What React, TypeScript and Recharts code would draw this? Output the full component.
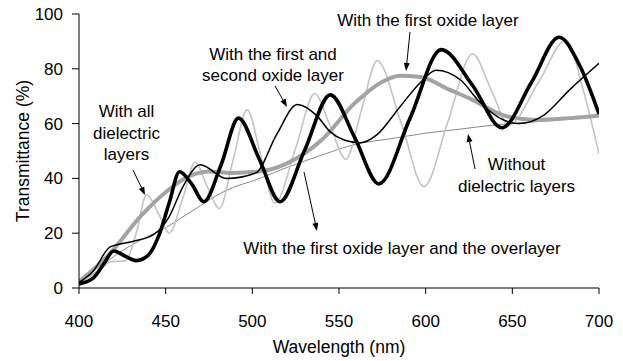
import React from 'react';
import { LineChart, Line, XAxis, YAxis } from 'recharts';

// wavelength (nm) / transmittance (%), one pair per curve
const withoutNm = [400, 410, 420, 430, 440, 450, 460, 470, 480, 490, 500, 520, 540, 560, 580, 600, 620, 640, 660, 680, 700];
const withoutT = [2, 6, 11.5, 15.5, 19, 22, 26, 30, 34, 37, 39, 44, 48.5, 52.5, 54.5, 56.5, 58, 59.5, 60.5, 61.5, 62.5];

const allLayersNm = [400, 410, 418, 427, 433, 439, 446, 452, 460, 467, 474, 481, 489, 497, 505, 513, 525, 536, 545, 554, 563, 572, 586, 599, 613, 627, 638, 648, 665, 681, 691, 700];
const allLayersT = [2, 5.5, 9.5, 10, 20, 34, 27, 20, 33, 46, 37, 29, 47, 65, 48, 31, 51, 71, 59, 47, 65, 83, 60, 37, 61, 85.5, 72, 59.5, 75, 90.5, 72, 49];

const firstOxideNm = [400, 417, 436, 451, 461, 475, 488, 504, 520, 540, 559, 575, 585, 597, 614, 626, 645, 664, 683, 700];
const firstOxideT = [2.3, 12, 26.5, 35.5, 40, 42.5, 42, 42.5, 45.5, 54, 67.4, 75.3, 77.5, 77, 72.3, 69, 63, 61.3, 62, 63];

const firstSecondNm = [400, 408, 418, 431, 443, 452, 460, 470, 485, 502, 514, 526, 537, 545, 553, 562, 572, 585, 597, 606, 620, 631, 645, 654, 668, 683, 700];
const firstSecondT = [2, 6, 15, 17, 19.5, 26, 37, 45, 40, 42, 56, 67, 63, 57, 54, 53, 56, 66, 75, 79.5, 76, 68, 61.3, 60, 63, 72.3, 82];

const overlayerNm = [400, 408, 414, 420, 427, 433, 440, 446, 452, 458, 465, 472, 482, 492, 504, 516, 530, 545, 559, 573, 591, 609, 627, 644, 661, 677, 689, 700];
const overlayerT = [1.5, 3.5, 8.5, 13.5, 11.5, 10, 12, 19, 31, 42.4, 38, 31.5, 45, 62, 47, 31.5, 50, 70.5, 55, 38, 62, 87, 74, 58.5, 75, 91.5, 81, 63.5];

const xTicks = [400, 450, 500, 550, 600, 650, 700];
const yTicks = [0, 20, 40, 60, 80, 100];

const toPoints = (nm: number[], t: number[]) => nm.map((x, i) => ({ x, y: t[i] }));

const FONT = '"Liberation Sans", Arial, sans-serif';

// annotation text: [x, y, lines]
const notes: { x: number; y: number; lines: string[] }[] = [
  { x: 428, y: 26, lines: ['With the first oxide layer'] },
  { x: 273, y: 59.5, lines: ['With the first and', 'second oxide layer'] },
  { x: 126.5, y: 117, lines: ['With all', 'dielectric', 'layers'] },
  { x: 402, y: 253.5, lines: ['With the first oxide layer and the overlayer'] },
  { x: 516.5, y: 170, lines: ['Without', 'dielectric layers'] },
];

// arrows: from -> tip
const arrows = [
  [410, 32, 406, 71],
  [275, 86, 287, 107],
  [133, 170, 145, 195],
  [304, 172, 317, 231],
  [475, 169, 468, 134],
];

const Arrow = ({ a }: { a: number[] }) => {
  const [x1, y1, x2, y2] = a;
  const ang = Math.atan2(y2 - y1, x2 - x1);
  const len = 8;
  const w = 3;
  const bx = x2 - len * Math.cos(ang);
  const by = y2 - len * Math.sin(ang);
  const px = -Math.sin(ang) * w;
  const py = Math.cos(ang) * w;
  return (
    <g>
      <line x1={x1} y1={y1} x2={bx} y2={by} stroke="#000" strokeWidth={1} />
      <polygon points={`${x2},${y2} ${bx + px},${by + py} ${bx - px},${by - py}`} fill="#000" />
    </g>
  );
};

export default function App() {
  return (
    <div style={{ position: 'absolute', left: 0, top: 0, width: 623, height: 361, background: '#fff' }}>
      <LineChart width={623} height={361} margin={{ top: 14, right: 24, bottom: 0, left: 0 }}>
        <XAxis
          type="number"
          dataKey="x"
          domain={[400, 700]}
          ticks={xTicks}
          allowDataOverflow
          height={73}
          stroke="#000"
          tickSize={6}
          tickMargin={21}
          tick={{ fill: '#000', fontSize: 17, fontFamily: FONT }}
        />
        <YAxis
          type="number"
          domain={[0, 100]}
          ticks={yTicks}
          width={79}
          stroke="#000"
          tickSize={7}
          tickMargin={9}
          tick={{ fill: '#000', fontSize: 17, fontFamily: FONT }}
        />
        <Line data={toPoints(withoutNm, withoutT)} dataKey="y" name="Without dielectric layers" type="monotone"
          stroke="#8a8a8a" strokeWidth={1} dot={false} isAnimationActive={false} />
        <Line data={toPoints(allLayersNm, allLayersT)} dataKey="y" name="With all dielectric layers" type="monotone"
          stroke="#c4c4c4" strokeWidth={1.6} dot={false} isAnimationActive={false} />
        <Line data={toPoints(firstOxideNm, firstOxideT)} dataKey="y" name="With the first oxide layer" type="monotone"
          stroke="#a3a3a3" strokeWidth={4} dot={false} isAnimationActive={false} />
        <Line data={toPoints(firstSecondNm, firstSecondT)} dataKey="y" name="With the first and second oxide layer" type="monotone"
          stroke="#000" strokeWidth={1.5} dot={false} isAnimationActive={false} />
        <Line data={toPoints(overlayerNm, overlayerT)} dataKey="y" name="With the first oxide layer and the overlayer" type="monotone"
          stroke="#000" strokeWidth={3.6} dot={false} isAnimationActive={false} />
      </LineChart>
      <svg width={623} height={361} style={{ position: 'absolute', left: 0, top: 0, pointerEvents: 'none' }}>
        <g fontFamily={FONT} fontSize={17} fill="#000" textAnchor="middle">
          {notes.map((n, i) =>
            n.lines.map((s, j) => (
              <text key={i + '-' + j} x={n.x} y={n.y + j * 21.7}>{s}</text>
            ))
          )}
          <text x={339} y={353} fontSize={17.5}>Wavelength (nm)</text>
          <text transform="translate(29,151) rotate(-90)" fontSize={17.5}>Transmittance (%)</text>
        </g>
        {arrows.map((a, i) => <Arrow key={i} a={a} />)}
      </svg>
    </div>
  );
}
